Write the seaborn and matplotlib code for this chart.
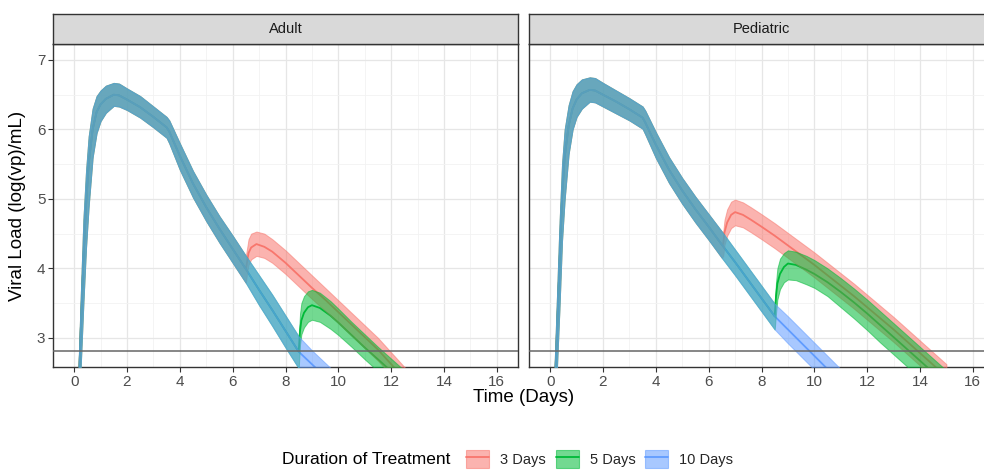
import numpy as np
import pandas as pd
import matplotlib
matplotlib.use("Agg")
import matplotlib.pyplot as plt
from matplotlib.patches import Patch
from matplotlib.lines import Line2D
from matplotlib.ticker import MultipleLocator
from matplotlib.legend_handler import HandlerTuple
import seaborn as sns

sns.set_theme(style="white")
plt.rcParams["font.family"] = ["Liberation Sans", "DejaVu Sans"]

# ---------------- data ----------------
panels = ["Adult", "Pediatric"]
durations = ["3 Days", "5 Days", "10 Days"]
colors = ["#F8766D", "#00BA38", "#619CFF"]
x_ticks = [0, 2, 4, 6, 8, 10, 12, 14, 16]
y_ticks = [3, 4, 5, 6, 7]
detection_limit = 2.81

# shared course (before any treatment stops)
t_base = [0.15, 0.25, 0.35, 0.45, 0.55, 0.7, 0.85, 1.0, 1.2, 1.5, 1.7, 2.0,
          2.5, 3.0, 3.5, 3.6, 4.0, 4.5, 5.0, 5.5, 6.0, 6.5]
adult_base_mean = [2.0, 3.1, 4.1, 4.9, 5.5, 6.0, 6.25, 6.36, 6.44, 6.50, 6.49, 6.43,
                   6.32, 6.18, 6.03, 5.97, 5.62, 5.22, 4.88, 4.57, 4.28, 3.99]
adult_base_lo = [1.6, 2.6, 3.5, 4.3, 4.9, 5.6, 5.95, 6.12, 6.24, 6.34, 6.33, 6.28,
                 6.17, 6.03, 5.88, 5.80, 5.42, 5.02, 4.68, 4.37, 4.08, 3.79]
adult_base_hi = [2.4, 3.6, 4.7, 5.4, 5.9, 6.3, 6.48, 6.56, 6.63, 6.67, 6.66, 6.59,
                 6.48, 6.33, 6.18, 6.13, 5.80, 5.40, 5.06, 4.75, 4.47, 4.18]
ped_base_mean = [2.0, 3.0, 4.0, 5.0, 5.6, 6.05, 6.3, 6.43, 6.52, 6.57, 6.56, 6.50,
                 6.40, 6.29, 6.17, 6.10, 5.78, 5.42, 5.12, 4.85, 4.60, 4.34]
ped_base_lo = [1.6, 2.5, 3.4, 4.4, 5.0, 5.65, 6.0, 6.18, 6.30, 6.40, 6.39, 6.33,
               6.23, 6.13, 6.01, 5.93, 5.59, 5.23, 4.93, 4.66, 4.41, 4.15]
ped_base_hi = [2.4, 3.5, 4.6, 5.5, 6.0, 6.35, 6.55, 6.65, 6.72, 6.75, 6.74, 6.67,
               6.56, 6.45, 6.33, 6.27, 5.96, 5.60, 5.30, 5.03, 4.78, 4.53]

# shared by 5 and 10 days (until 5-day treatment stops)
t_mid = [7.0, 7.5, 8.0, 8.5]
adult_mid_mean = [3.69, 3.40, 3.10, 2.80]
adult_mid_lo = [3.47, 3.17, 2.86, 2.56]
adult_mid_hi = [3.90, 3.62, 3.32, 3.02]
ped_mid_mean = [4.09, 3.83, 3.57, 3.31]
ped_mid_lo = [3.90, 3.64, 3.38, 3.12]
ped_mid_hi = [4.27, 4.01, 3.75, 3.49]

# 3 days rebound
adult_t3 = [6.55, 6.6, 6.7, 6.9, 7.2, 7.5, 8.0, 8.5, 9.0, 9.5, 10.0, 10.5, 11.0,
            11.5, 12.0, 12.5, 13.0]
adult_m3 = [4.10, 4.22, 4.30, 4.35, 4.31, 4.24, 4.08, 3.90, 3.72, 3.55, 3.37, 3.19,
            3.01, 2.83, 2.62, 2.41, 2.20]
adult_lo3 = [3.95, 4.05, 4.13, 4.18, 4.15, 4.08, 3.92, 3.74, 3.56, 3.39, 3.21, 3.03,
             2.85, 2.67, 2.46, 2.25, 2.04]
adult_hi3 = [4.30, 4.42, 4.50, 4.53, 4.50, 4.42, 4.26, 4.08, 3.90, 3.72, 3.54, 3.36,
             3.18, 3.00, 2.79, 2.58, 2.37]
ped_t3 = [6.55, 6.6, 6.7, 6.85, 7.0, 7.3, 7.6, 8.0, 8.5, 9.0, 9.5, 10.0, 10.5, 11.0,
          11.5, 12.0, 12.5, 13.0, 13.5, 14.0, 14.5, 15.0]
ped_m3 = [4.35, 4.52, 4.66, 4.77, 4.81, 4.77, 4.70, 4.60, 4.47, 4.33, 4.19, 4.05,
          3.90, 3.75, 3.60, 3.44, 3.28, 3.12, 2.95, 2.78, 2.61, 2.44]
ped_lo3 = [4.18, 4.34, 4.47, 4.58, 4.62, 4.59, 4.52, 4.42, 4.29, 4.15, 4.01, 3.87,
           3.72, 3.57, 3.42, 3.26, 3.10, 2.94, 2.77, 2.60, 2.43, 2.26]
ped_hi3 = [4.52, 4.70, 4.85, 4.96, 4.99, 4.95, 4.88, 4.78, 4.65, 4.51, 4.37, 4.23,
           4.08, 3.93, 3.78, 3.62, 3.46, 3.30, 3.13, 2.96, 2.79, 2.62]

# 5 days rebound
adult_t5 = [8.55, 8.6, 8.7, 8.85, 9.0, 9.3, 9.7, 10.0, 10.5, 11.0, 11.5, 12.0, 12.5]
adult_m5 = [3.10, 3.25, 3.36, 3.44, 3.47, 3.43, 3.32, 3.22, 3.04, 2.86, 2.69, 2.52, 2.35]
adult_lo5 = [2.90, 3.05, 3.15, 3.23, 3.26, 3.23, 3.13, 3.04, 2.87, 2.69, 2.52, 2.35, 2.18]
adult_hi5 = [3.35, 3.50, 3.60, 3.67, 3.69, 3.65, 3.53, 3.42, 3.23, 3.05, 2.87, 2.70, 2.53]
ped_t5 = [8.55, 8.6, 8.7, 8.85, 9.0, 9.3, 9.7, 10.0, 10.5, 11.0, 11.5, 12.0, 12.5,
          13.0, 13.5, 14.0, 14.5, 15.0]
ped_m5 = [3.60, 3.78, 3.92, 4.02, 4.07, 4.05, 3.98, 3.92, 3.80, 3.66, 3.51, 3.35,
          3.18, 3.01, 2.84, 2.67, 2.50, 2.33]
ped_lo5 = [3.35, 3.55, 3.70, 3.80, 3.84, 3.83, 3.77, 3.72, 3.60, 3.44, 3.28, 3.11,
           2.93, 2.76, 2.59, 2.42, 2.25, 2.08]
ped_hi5 = [3.80, 4.00, 4.14, 4.22, 4.26, 4.24, 4.18, 4.12, 4.00, 3.86, 3.71, 3.55,
           3.38, 3.21, 3.04, 2.87, 2.70, 2.53]

# 10 days continues declining
adult_t10 = [9.0, 9.5, 10.0]
adult_m10 = [2.62, 2.44, 2.26]
adult_lo10 = [2.40, 2.22, 2.04]
adult_hi10 = [2.82, 2.64, 2.46]
ped_t10 = [9.0, 9.5, 10.0, 10.5, 11.0, 11.5]
ped_m10 = [3.12, 2.93, 2.74, 2.55, 2.36, 2.17]
ped_lo10 = [2.92, 2.73, 2.54, 2.35, 2.16, 1.97]
ped_hi10 = [3.31, 3.12, 2.93, 2.74, 2.55, 2.36]

# ---------------- build a long table ----------------
rows = []
def add(panel, dur, t_parts, m_parts, lo_parts, hi_parts):
    for tp, mp, lp, hp in zip(t_parts, m_parts, lo_parts, hi_parts):
        for t, m, l, h in zip(tp, mp, lp, hp):
            rows.append(dict(panel=panel, duration=dur, time=t, mean=m, lo=l, hi=h))

add("Adult", "3 Days", [t_base, adult_t3], [adult_base_mean, adult_m3],
    [adult_base_lo, adult_lo3], [adult_base_hi, adult_hi3])
add("Adult", "5 Days", [t_base, t_mid, adult_t5], [adult_base_mean, adult_mid_mean, adult_m5],
    [adult_base_lo, adult_mid_lo, adult_lo5], [adult_base_hi, adult_mid_hi, adult_hi5])
add("Adult", "10 Days", [t_base, t_mid, adult_t10], [adult_base_mean, adult_mid_mean, adult_m10],
    [adult_base_lo, adult_mid_lo, adult_lo10], [adult_base_hi, adult_mid_hi, adult_hi10])
add("Pediatric", "3 Days", [t_base, ped_t3], [ped_base_mean, ped_m3],
    [ped_base_lo, ped_lo3], [ped_base_hi, ped_hi3])
add("Pediatric", "5 Days", [t_base, t_mid, ped_t5], [ped_base_mean, ped_mid_mean, ped_m5],
    [ped_base_lo, ped_mid_lo, ped_lo5], [ped_base_hi, ped_mid_hi, ped_hi5])
add("Pediatric", "10 Days", [t_base, t_mid, ped_t10], [ped_base_mean, ped_mid_mean, ped_m10],
    [ped_base_lo, ped_mid_lo, ped_lo10], [ped_base_hi, ped_mid_hi, ped_hi10])
df = pd.DataFrame(rows)

# ---------------- figure ----------------
W, H = 984, 470
fig = plt.figure(figsize=(W / 100, H / 100), dpi=100)
pal = dict(zip(durations, colors))
FILL_ALPHA = 0.55

panel_left = [53, 529]
pw = 465
top, bottom = 44, 367
strip_h = 30

for i, panel in enumerate(panels):
    ax = fig.add_axes([panel_left[i] / W, 1 - bottom / H, pw / W, (bottom - top) / H])
    sub = df[df.panel == panel]
    sns.lineplot(data=sub, x="time", y="mean", hue="duration", hue_order=durations,
                 palette=pal, estimator=None, errorbar=None, legend=False,
                 linewidth=1.3, ax=ax, zorder=2)
    for dur in durations:
        s = sub[sub.duration == dur]
        ax.fill_between(s["time"], s["lo"], s["hi"], facecolor=pal[dur], edgecolor=pal[dur],
                        alpha=FILL_ALPHA, linewidth=0.7, zorder=3)
    ax.axhline(detection_limit, color="#666666", linewidth=1.1, zorder=4)

    ax.set_xlim(-0.8, 16.8)
    ax.set_ylim(2.58, 7.23)
    ax.set_xticks(x_ticks)
    ax.set_yticks(y_ticks)
    ax.xaxis.set_minor_locator(MultipleLocator(1))
    ax.yaxis.set_minor_locator(MultipleLocator(0.5))
    ax.grid(which="major", color="#E6E6E6", linewidth=0.9, zorder=0)
    ax.grid(which="minor", color="#F2F2F2", linewidth=0.6, zorder=0)
    ax.set_axisbelow(True)
    ax.set_facecolor("white")
    for sp in ax.spines.values():
        sp.set_color("#333333")
        sp.set_linewidth(1.0)
        sp.set_visible(True)
    ax.tick_params(which="major", length=3.5, width=0.8, color="#333333",
                   labelcolor="#4D4D4D", labelsize=11, pad=2,
                   bottom=True, left=(i == 0))
    ax.tick_params(which="minor", length=0)
    if i > 0:
        ax.set_yticklabels([])
    ax.set_xlabel("")
    ax.set_ylabel("")

    sax = fig.add_axes([panel_left[i] / W, 1 - top / H, pw / W, strip_h / H])
    sax.set_facecolor("#D9D9D9")
    sax.set_xticks([])
    sax.set_yticks([])
    for sp in sax.spines.values():
        sp.set_color("#333333")
        sp.set_linewidth(1.0)
    sax.text(0.5, 0.5, panel, ha="center", va="center", fontsize=10.5,
             color="#1A1A1A", transform=sax.transAxes)

fig.text(523.5 / W, 1 - 398 / H, "Time (Days)", ha="center", va="center",
         fontsize=13.5, color="black")
fig.text(18 / W, 1 - 205.5 / H, "Viral Load (log(vp)/mL)", ha="center", va="center",
         rotation=90, fontsize=13.5, color="black")

# legend
fig.text(281.7 / W, 1 - 459 / H, "Duration of Treatment", ha="left", va="center",
         fontsize=12.5, color="black")
handles = [(Line2D([], [], color=c, linewidth=1.3),
            Patch(facecolor=c, edgecolor=c, alpha=FILL_ALPHA, linewidth=0.8))
           for c in colors]
fig.legend(handles, durations, loc="center left", bbox_to_anchor=(466 / W, 1 - 459 / H),
           ncol=3, frameon=False, fontsize=10.5, handlelength=1.6, handleheight=1.6,
           handletextpad=0.75, columnspacing=0.65, borderpad=0, borderaxespad=0,
           handler_map={tuple: HandlerTuple(ndivide=1, pad=0)})

fig.savefig("out.png", dpi=100)
